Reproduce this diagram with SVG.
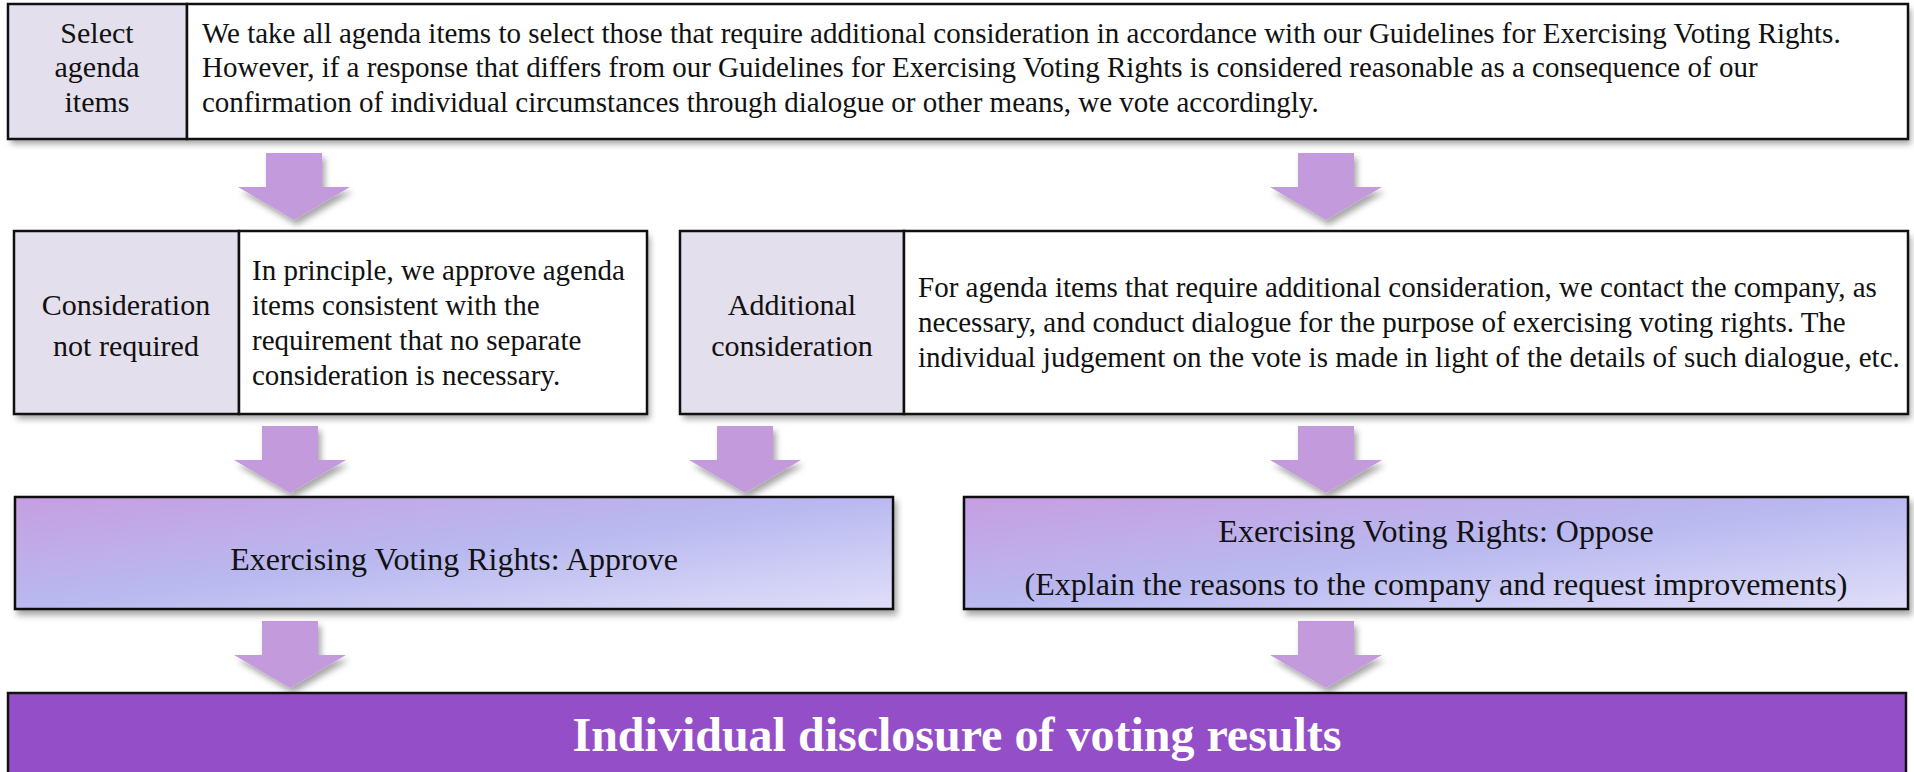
<svg xmlns="http://www.w3.org/2000/svg" width="1914" height="772" viewBox="0 0 1914 772">
<style>
.box{stroke:#111;stroke-width:2.5}
.lbl{fill:#E4DFEC}
.wht{fill:#FFFFFF}
.t{font-family:"Liberation Serif","Times New Roman",serif;fill:#111}
.tl{font-size:30px;text-anchor:middle}
.tv{font-size:32px;text-anchor:middle}
.tb{font-size:29px}
.arr{fill:#C39ADC}
</style>
<defs>
<filter id="sh" x="-5%" y="-10%" width="110%" height="130%">
<feDropShadow dx="3" dy="5" stdDeviation="3" flood-color="#000" flood-opacity="0.35"/>
</filter>
<linearGradient id="vg" x1="0" y1="0" x2="1" y2="1">
<stop offset="0" stop-color="#C69EE0"/>
<stop offset="0.5" stop-color="#B9B9F0"/>
<stop offset="1" stop-color="#E0DEF8"/>
</linearGradient>
<path id="arrow" d="M-28,0 H28 V34 H56 L0,67 L-56,34 H-28 Z"/>
</defs>

<g id="connectors">
<use href="#arrow" class="arr" filter="url(#sh)" x="294" y="153"/>
<use href="#arrow" class="arr" filter="url(#sh)" x="1326" y="153"/>
<use href="#arrow" class="arr" filter="url(#sh)" x="290" y="426"/>
<use href="#arrow" class="arr" filter="url(#sh)" x="745" y="426"/>
<use href="#arrow" class="arr" filter="url(#sh)" x="1326" y="426"/>
<use href="#arrow" class="arr" filter="url(#sh)" x="290" y="621"/>
<use href="#arrow" class="arr" filter="url(#sh)" x="1326" y="621"/>
</g>

<g id="select">
<rect x="8" y="4" width="1900" height="135" class="wht" filter="url(#sh)"/>
<rect x="8" y="4" width="179" height="135" class="box lbl"/>
<rect x="187" y="4" width="1721" height="135" class="box wht"/>
<text class="t tl" x="97" y="43">Select</text>
<text class="t tl" x="97" y="77">agenda</text>
<text class="t tl" x="97" y="112">items</text>
<text class="t tb" x="202" y="43">We take all agenda items to select those that require additional consideration in accordance with our Guidelines for Exercising Voting Rights.</text>
<text class="t tb" x="202" y="77">However, if a response that differs from our Guidelines for Exercising Voting Rights is considered reasonable as a consequence of our</text>
<text class="t tb" x="202" y="112">confirmation of individual circumstances through dialogue or other means, we vote accordingly.</text>
</g>

<g id="notrequired">
<rect x="14" y="231" width="633" height="183" class="wht" filter="url(#sh)"/>
<rect x="14" y="231" width="225" height="183" class="box lbl"/>
<rect x="239" y="231" width="408" height="183" class="box wht"/>
<text class="t tl" x="126" y="315">Consideration</text>
<text class="t tl" x="126" y="356">not required</text>
<text class="t tb" x="252" y="280" font-size="29.5">In principle, we approve agenda</text>
<text class="t tb" x="252" y="315" font-size="29.5">items consistent with the</text>
<text class="t tb" x="252" y="350" font-size="29.5">requirement that no separate</text>
<text class="t tb" x="252" y="385" font-size="29.5">consideration is necessary.</text>
</g>

<g id="additional">
<rect x="680" y="231" width="1228" height="183" class="wht" filter="url(#sh)"/>
<rect x="680" y="231" width="224" height="183" class="box lbl"/>
<rect x="904" y="231" width="1004" height="183" class="box wht"/>
<text class="t tl" x="792" y="315">Additional</text>
<text class="t tl" x="792" y="356">consideration</text>
<text class="t tb" x="918" y="297">For agenda items that require additional consideration, we contact the company, as</text>
<text class="t tb" x="918" y="332">necessary, and conduct dialogue for the purpose of exercising voting rights. The</text>
<text class="t tb" x="918" y="367">individual judgement on the vote is made in light of the details of such dialogue, etc.</text>
</g>

<g id="approve">
<rect x="15" y="497" width="878" height="112" fill="url(#vg)" class="box" filter="url(#sh)"/>
<text class="t tv" x="454" y="570">Exercising Voting Rights: Approve</text>
</g>

<g id="oppose">
<rect x="964" y="497" width="944" height="112" fill="url(#vg)" class="box" filter="url(#sh)"/>
<text class="t tv" x="1436" y="542">Exercising Voting Rights: Oppose</text>
<text class="t tv" x="1436" y="595">(Explain the reasons to the company and request improvements)</text>
</g>

<g id="disclosure">
<rect x="8" y="693" width="1898" height="100" fill="#944FC8" class="box"/>
<text x="957" y="751" text-anchor="middle" font-family="'Liberation Serif','Times New Roman',serif" font-weight="bold" font-size="48" fill="#FFFFFF">Individual disclosure of voting results</text>
</g>
</svg>
